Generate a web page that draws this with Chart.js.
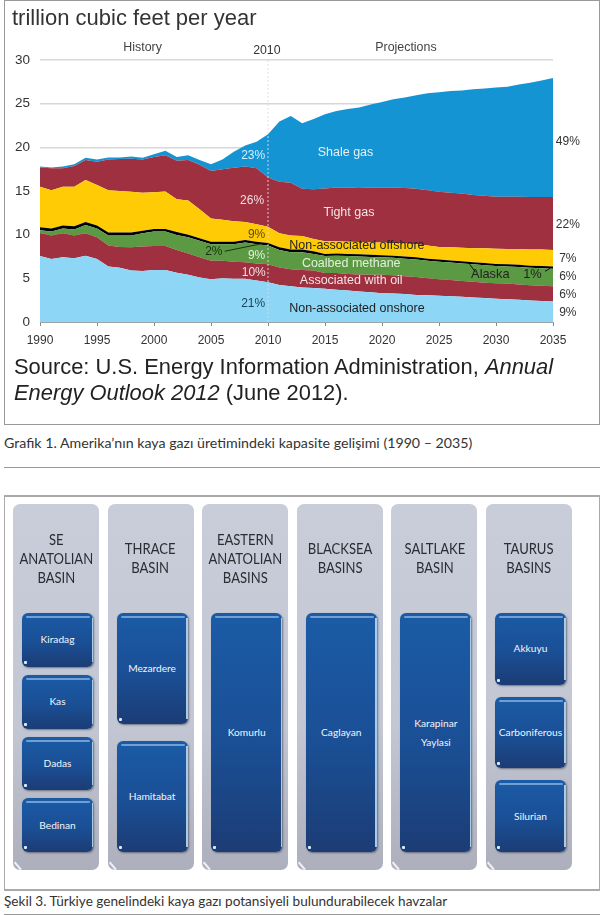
<!DOCTYPE html>
<html>
<head>
<meta charset="utf-8">
<script src="https://cdn.jsdelivr.net/npm/chart.js@4"></script>
<style>
html, body { margin: 0; padding: 0; background: #fff; }
body { position: relative; width: 600px; height: 915px; overflow: hidden; font-family: Lato, sans-serif; color: #333; }
.frame { position: absolute; left: 4px; width: 594px; border: 1px solid #999; box-sizing: content-box; }
#frame1 { top: 0; height: 423px; }
#frame2 { top: 495px; height: 392px; border-width: 2px 1px; border-color: #aaa; }
#chartBox { position: absolute; left: 0; top: 0; width: 600px; height: 345px; filter: blur(0.35px); }
.head { position: absolute; left: 12px; top: 5px; font: 22px "Liberation Sans", sans-serif; color: #333; white-space: nowrap; filter: blur(0.3px); }
.source { position: absolute; left: 14px; top: 354px; font: 21.9px/26px "Liberation Sans", sans-serif; color: #222; white-space: nowrap; filter: blur(0.3px); }
.caption { position: absolute; left: 4px; white-space: nowrap; color: #333; }
.rule { position: absolute; left: 4px; width: 596px; height: 1px; background: #999; }
#basins { position: absolute; left: 13px; top: 504px; display: flex; gap: 8.6px; }
.basin { position: relative; width: 86px; height: 366px; border-radius: 7px; background: linear-gradient(#c9cdd9, #c3c7d3 60%, #adb0bc); }
.basin::after { content: ""; position: absolute; left: 0; bottom: 4px; width: 10px; height: 1.5px; background: #eef0f4; transform: rotate(50deg); }
.basinName { position: absolute; left: 0; right: 0; top: 0; height: 108px; display: flex; align-items: center; justify-content: center; text-align: center; font-size: 15px; line-height: 19px; color: #2a2d33; }
.basinName div { flex: none; transform: scaleX(0.87); }
.fields { position: absolute; left: 9px; top: 109px; width: 71px; height: 239px; display: flex; flex-direction: column; }
.field { position: relative; flex: 1; border-radius: 6px; display: flex; align-items: center; justify-content: center; text-align: center; color: #f2f5fa; font-size: 10.2px; line-height: 19px; box-sizing: border-box; background: linear-gradient(#1b5ba6, #1a4f95 55%, #1c3c75); box-shadow: 1px 1px 2px rgba(40, 50, 70, .55); }
.field::before { content: ""; position: absolute; left: 4px; right: 3px; top: 3px; height: 2px; border-radius: 1px; background: #6f9fd3; }
.field::after { content: ""; position: absolute; right: 0; top: 5px; bottom: 5px; width: 1.5px; background: #a9cbe6; }
.dot { position: absolute; left: 2px; bottom: 3px; width: 3px; height: 3px; background: #dfeaf5; border-radius: 1px; }
</style>
</head>
<body>
<div class="frame" id="frame1"></div>
<div id="chartBox"><canvas id="gasChart" width="600" height="345"></canvas></div>
<div class="head">trillion cubic feet per year</div>
<div class="source">Source: U.S. Energy Information Administration, <i>Annual</i><br><i>Energy Outlook 2012</i> (June 2012).</div>
<div class="caption" style="top:434px;font-size:14.2px">Grafik 1. Amerika’nın kaya gazı üretimindeki kapasite gelişimi (1990 – 2035)</div>
<div class="rule" style="top:467px"></div>
<div class="frame" id="frame2"></div>
<div id="basins"></div>
<div class="caption" style="top:893px;font-size:13.6px">Şekil 3. Türkiye genelindeki kaya gazı potansiyeli bulundurabilecek havzalar</div>
<div class="rule" style="top:914px"></div>

<script>
// band tops, one value per year
const years = [];
for (let y = 1990; y <= 2035; y++) years.push(y);

const onshoreTop = [7.55,7.2,7.4,7.3,7.6,7.2,6.35,6.2,5.9,5.85,
    5.95,5.95,5.65,5.4,5.1,4.9,5.0,4.95,4.95,4.75,
    4.55,4.25,4.1,3.95,3.9,3.8,3.7,3.6,3.5,3.4,
    3.3,3.25,3.2,3.1,3.05,3.0,2.95,2.9,2.8,2.75,
    2.65,2.6,2.55,2.45,2.4,2.35];
const oilTop = [10.2,9.9,10.15,9.9,10.15,9.7,8.75,8.6,8.55,8.65,
    8.7,8.7,8.25,7.85,7.4,7.0,7.0,6.9,6.85,6.7,
    6.6,6.25,6.05,5.95,5.9,5.6,5.6,5.5,5.45,5.4,
    5.4,5.35,5.25,5.15,5.0,4.9,4.8,4.7,4.6,4.5,
    4.45,4.4,4.3,4.2,4.15,4.1];
const coalbedTop = [10.5,10.35,10.7,10.6,11.1,10.7,9.9,9.9,9.9,10.15,
    10.35,10.35,9.95,9.7,9.3,8.9,8.9,8.9,9.1,8.9,
    8.75,8.25,8.0,8.0,7.8,7.55,7.6,7.55,7.5,7.45,
    7.4,7.35,7.25,7.15,7.0,6.9,6.8,6.7,6.6,6.5,
    6.4,6.35,6.3,6.2,6.15,6.1];
const alaskaTop = [10.85,10.7,11.05,10.95,11.45,11.05,10.25,10.25,10.25,10.45,
    10.65,10.65,10.3,10.0,9.6,9.2,9.2,9.2,9.4,9.2,
    9.05,8.55,8.3,8.3,8.1,7.8,7.85,7.8,7.75,7.7,
    7.65,7.6,7.5,7.4,7.25,7.15,7.05,6.95,6.85,6.75,
    6.65,6.6,6.55,6.45,6.4,6.35];
const offshoreTop = [15.5,15.1,15.5,15.5,16.25,15.7,15.1,15.0,14.9,14.8,
    14.85,14.95,14.05,13.9,12.9,11.85,11.7,11.55,11.45,11.2,
    10.9,10.15,9.9,9.85,9.5,9.25,9.25,9.2,9.15,9.1,
    9.1,9.05,9.0,8.9,8.75,8.6,8.55,8.5,8.45,8.45,
    8.4,8.35,8.35,8.3,8.3,8.25];
const tightTop = [17.7,17.6,17.6,17.85,18.55,18.35,18.6,18.65,18.7,18.6,
    18.9,19.1,18.45,18.55,18.0,17.3,17.5,17.65,17.8,17.6,
    16.55,16.05,15.95,15.25,15.2,15.3,15.4,15.4,15.35,15.4,
    15.4,15.4,15.35,15.25,15.1,14.9,14.8,14.7,14.55,14.45,
    14.35,14.35,14.35,14.3,14.3,14.3];
const shaleTop = [17.8,17.7,17.8,18.05,18.8,18.6,18.85,18.85,18.95,18.8,
    19.2,19.6,18.9,19.1,18.55,18.05,18.6,19.5,20.2,20.65,
    21.5,22.95,23.6,22.75,23.25,23.8,24.15,24.4,24.55,24.9,
    25.2,25.5,25.7,25.95,26.2,26.3,26.45,26.5,26.65,26.75,
    26.85,26.95,27.2,27.4,27.65,27.95];

const xTicks = [1990,1995,2000,2005,2010,2015,2020,2025,2030,2035];
const yTicks = [0,5,10,15,20,25,30];

// basin diagram
const basinNames = ['SE<br>ANATOLIAN<br>BASIN', 'THRACE<br>BASIN', 'EASTERN<br>ANATOLIAN<br>BASINS',
    'BLACKSEA<br>BASINS', 'SALTLAKE<br>BASIN', 'TAURUS<br>BASINS'];
const basinFields = [
    ['Kiradag', 'Kas', 'Dadas', 'Bedinan'],
    ['Mezardere', 'Hamitabat'],
    ['Komurlu'],
    ['Caglayan'],
    ['Karapinar<br>Yaylasi'],
    ['Akkuyu', 'Carboniferous', 'Silurian']
];
const fieldGaps = { 1: 0, 2: 17, 3: 12, 4: 8 };

const LIGHT = '#e8eef2', DARK = '#222', TEAL = '#17455a';

// text on the chart, placed in axis units
const chartNotes = [
    ['History', 1999.0, 31.4, '#444', 12.4],
    ['2010', 2009.9, 31.05, '#333', 12.3],
    ['Projections', 2022.1, 31.4, '#444', 12.4],
    ['23%', 2008.7, 19.0, '#d6eef9', 12],
    ['26%', 2008.6, 13.85, '#f3dfe2', 12],
    ['9%', 2009.0, 9.95, '#5c4a10', 12],
    ['2%', 2005.25, 8.0, '#1d2f17', 12],
    ['9%', 2009.0, 7.65, '#e4f0de', 12],
    ['10%', 2008.75, 5.7, '#f3dfe2', 12],
    ['21%', 2008.7, 2.05, TEAL, 12],
    ['Shale gas', 2016.8, 19.45, LIGHT, 12.5],
    ['Tight gas', 2017.1, 12.5, '#f3e3e5', 12.5],
    ['Non-associated offshore', 2017.8, 8.8, DARK, 12.5],
    ['Coalbed methane', 2017.3, 6.75, '#e4f0de', 12.5],
    ['Associated with oil', 2017.3, 4.8, '#f3e3e5', 12.5],
    ['Non-associated onshore', 2017.8, 1.5, DARK, 12.5],
    ['Alaska', 2029.5, 5.4, DARK, 12.8],
    ['1%', 2033.2, 5.4, DARK, 12.8],
    ['49%', 2036.3, 20.7, '#333', 12],
    ['22%', 2036.3, 11.1, '#333', 12],
    ['7%', 2036.3, 7.2, '#333', 12],
    ['6%', 2036.3, 5.15, '#333', 12],
    ['6%', 2036.3, 3.1, '#333', 12],
    ['9%', 2036.3, 1.05, '#333', 12]
];

// leader lines and the 2010 divider
const dividerYears = [2010, 2010];
const dividerValues = [0, 30];
const leader2pctYears = [2006.2, 2009.4];
const leader2pctValues = [8.1, 8.95];
const leaderAlaskaLeftYears = [2027.7, 2028.2];
const leaderAlaskaLeftValues = [6.6, 5.7];
const leaderAlaskaRightYears = [2034.3, 2034.8];
const leaderAlaskaRightValues = [5.8, 6.2];

function points(xs, ys) {
    return xs.map(function (x, i) { return { x: x, y: ys[i] }; });
}

function band(label, tops, color, fill) {
    return { label: label, data: points(years, tops), backgroundColor: color, borderWidth: 0, pointRadius: 0, fill: fill };
}

function overlay(label, xs, ys, color, width, dash) {
    return { label: label, data: points(xs, ys), borderColor: color, borderWidth: width, borderDash: dash, pointRadius: 0, fill: false, order: -1 };
}

const notesPlugin = {
    id: 'notes',
    afterDatasetsDraw: function (chart) {
        const ctx = chart.ctx;
        ctx.save();
        ctx.textAlign = 'center';
        ctx.textBaseline = 'middle';
        chartNotes.forEach(function (n) {
            ctx.fillStyle = n[3];
            ctx.font = n[4] + 'px "Liberation Sans", sans-serif';
            ctx.fillText(n[0], chart.scales.x.getPixelForValue(n[1]), chart.scales.y.getPixelForValue(n[2]));
        });
        ctx.restore();
    }
};

function initGasChart() {
    new Chart(document.getElementById('gasChart').getContext('2d'), {
        type: 'line',
        data: {
            datasets: [
                band('Non-associated onshore', onshoreTop, '#8ed6f6', 'origin'),
                band('Associated with oil', oilTop, '#9e3040', '-1'),
                band('Coalbed methane', coalbedTop, '#5b9a42', '-1'),
                band('Alaska', alaskaTop, '#000000', '-1'),
                band('Non-associated offshore', offshoreTop, '#ffcb05', '-1'),
                band('Tight gas', tightTop, '#9e3040', '-1'),
                band('Shale gas', shaleTop, '#1594d3', '-1'),
                overlay('2010', dividerYears, dividerValues, 'rgba(215,220,225,0.9)', 1, [2, 2]),
                overlay('2% leader', leader2pctYears, leader2pctValues, '#1d2f17', 1, []),
                overlay('Alaska leader', leaderAlaskaLeftYears, leaderAlaskaLeftValues, '#111', 1, []),
                overlay('1% leader', leaderAlaskaRightYears, leaderAlaskaRightValues, '#111', 1, [])
            ]
        },
        options: {
            responsive: false,
            animation: false,
            layout: { padding: { top: 60, right: 47, left: 0, bottom: 0 } },
            plugins: { legend: { display: false }, tooltip: { enabled: false } },
            scales: {
                x: {
                    type: 'linear',
                    min: 1990,
                    max: 2035,
                    afterFit: function (s) { s.height = 23; },
                    afterBuildTicks: function (s) { s.ticks = xTicks.map(function (v) { return { value: v }; }); },
                    grid: { drawOnChartArea: false, drawTicks: true, tickLength: 4, color: '#888' },
                    border: { display: true, color: '#9aa5a8', width: 1 },
                    ticks: {
                        maxRotation: 0,
                        autoSkip: false,
                        padding: 7,
                        color: '#333',
                        font: { family: 'Liberation Sans', size: 12 },
                        callback: function (v) { return String(v); }
                    }
                },
                y: {
                    min: 0,
                    max: 30,
                    afterFit: function (s) { s.width = 40; },
                    afterBuildTicks: function (s) { s.ticks = yTicks.map(function (v) { return { value: v }; }); },
                    grid: { color: '#d8d8d8', lineWidth: 1.5, drawTicks: false },
                    border: { display: false },
                    ticks: {
                        padding: 10,
                        color: '#333',
                        font: { family: 'Liberation Sans', size: 13.5 }
                    }
                }
            }
        },
        plugins: [notesPlugin]
    });
}

function buildBasins() {
    const root = document.getElementById('basins');
    basinNames.forEach(function (name, i) {
        const col = document.createElement('div');
        col.className = 'basin';
        const fields = basinFields[i];
        let html = '<div class="basinName"><div>' + name + '</div></div>';
        html += '<div class="fields" style="gap:' + fieldGaps[fields.length] + 'px">';
        fields.forEach(function (f) {
            html += '<div class="field"><div>' + f + '</div><span class="dot"></span></div>';
        });
        col.innerHTML = html + '</div>';
        root.appendChild(col);
    });
}

document.addEventListener('DOMContentLoaded', function () {
    initGasChart();
    buildBasins();
});
</script>
</body>
</html>
